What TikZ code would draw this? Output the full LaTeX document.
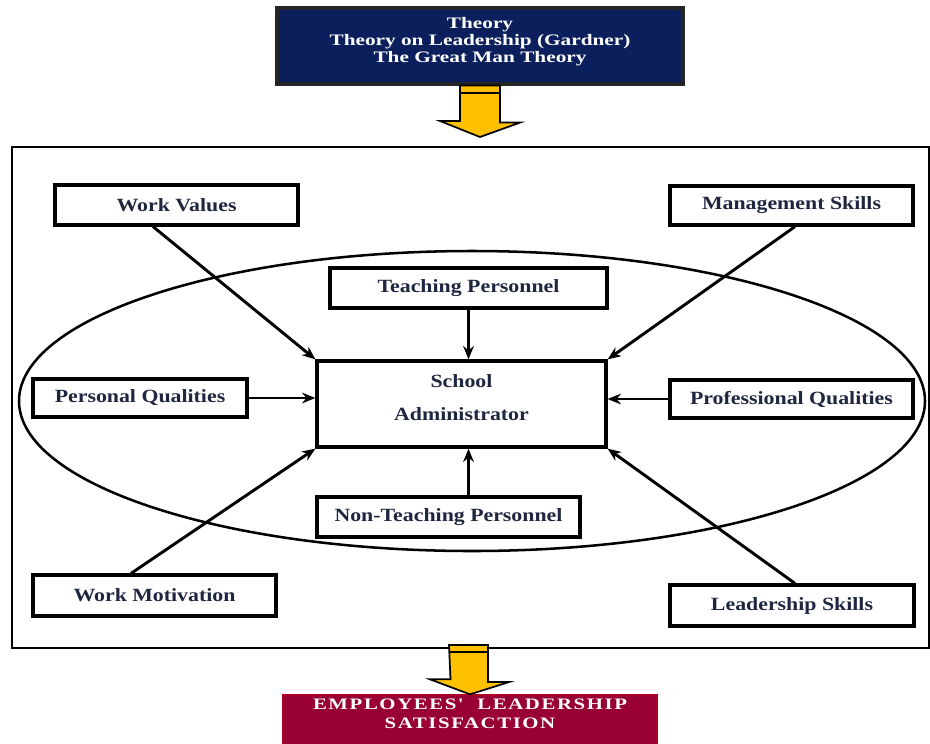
\documentclass[tikz,border=0pt]{standalone}
\usepackage{fontspec}
\usepackage{tikz}
\usetikzlibrary{arrows.meta,calc}

\newfontfamily\boxfont[FakeStretch=1.17]{Liberation Serif}
\newfontfamily\headfont[FakeStretch=1.33]{Liberation Serif}
\newfontfamily\capsfont[FakeStretch=1.3,LetterSpace=10]{Liberation Serif}

\definecolor{theorynavy}{HTML}{0B1F5C}
\definecolor{outmaroon}{HTML}{990033}
\definecolor{arrowgold}{HTML}{FFC000}
\definecolor{labelink}{HTML}{1F2640}

\tikzset{
  factor/.style={draw=black, line width=2.4pt, fill=white, text=labelink,
    font=\boxfont\bfseries\fontsize{14}{16}\selectfont, inner sep=0pt, align=center},
  link/.style={line width=2.2pt, -{Stealth[length=10pt,width=8pt]}},
  bigarrow/.style={fill=arrowgold, draw=black, line width=1.3pt, line join=miter},
}

\begin{document}
\begin{tikzpicture}[x=0.75pt,y=-0.75pt]
  \clip (0,0) rectangle (930,743);
  \fill[white] (0,0) rectangle (930,743);

  % Theory on top
  \node[draw=black!85, line width=2.4pt, fill=theorynavy, text=white, align=center,
        font=\headfont\bfseries\fontsize{12}{13}\selectfont,
        minimum width=304.5pt, minimum height=57pt, inner sep=0pt]
    (theory) at (480,46) {Theory\\Theory on Leadership (Gardner)\\The Great Man Theory\\[-4pt]\mbox{}};

  % Frame and ellipse
  \coordinate (frameNW) at (12,147);
  \coordinate (frameSE) at (929,648);
  \draw[line width=1.9pt] (frameNW) rectangle (frameSE);
  \draw[line width=1.9pt] (472,401) ellipse [x radius=339.75pt, y radius=112.5pt];

  % Factors
  \node[factor, minimum width=182.25pt, minimum height=30pt]   (workval)  at (176.5,205) {Work Values};
  \node[factor, minimum width=182.25pt, minimum height=29.25pt] (mgmt)    at (791.5,205.5) {Management Skills};
  \node[factor, minimum width=207.75pt, minimum height=30pt]   (teach)    at (468.5,288) {Teaching Personnel};
  \node[factor, minimum width=216.75pt, minimum height=64.5pt] (school)   at (461.5,404) {School\\[9pt]Administrator\\[-6pt]\mbox{}};
  \node[factor, minimum width=160.5pt, minimum height=28.5pt]  (personal) at (140,398) {Personal Qualities};
  \node[factor, minimum width=182.25pt, minimum height=28.5pt] (prof)     at (791.5,399) {Professional Qualities};
  \node[factor, minimum width=197.25pt, minimum height=30pt]   (nonteach) at (448.5,517) {Non-Teaching Personnel};
  \node[factor, minimum width=182.25pt, minimum height=30.75pt] (workmot) at (154.5,595.5) {Work Motivation};
  \node[factor, minimum width=183pt, minimum height=30.75pt]   (leader)   at (792,605.5) {Leadership Skills};

  % Links to the administrator
  \draw[link] ($(workval.south)+(-23.5,0)$) -- (school.north west);
  \draw[link] ($(mgmt.south)+(3.5,0)$) -- (school.north east);
  \draw[link] ($(workmot.north)+(-23.5,0)$) -- (school.south west);
  \draw[link] ($(leader.north)+(3,0)$) -- (school.south east);
  \draw[link] (teach.south) -- (teach.south |- school.north);
  \draw[link] (teach.south |- nonteach.north) -- (teach.south |- school.south);
  \draw[link] (personal.east) -- (personal.east -| school.west);
  \draw[link] (prof.west) -- (prof.west -| school.east);

  % Outcome
  \node[draw=outmaroon!80!red, line width=1pt, fill=outmaroon, text=white, align=center,
        font=\capsfont\bfseries\fontsize{12}{14}\selectfont,
        minimum width=280.5pt, minimum height=37.5pt, inner sep=0pt]
    (outcome) at (470,720) {EMPLOYEES'\ \ LEADERSHIP\\SATISFACTION\\[-5pt]\mbox{}};

  % Block arrows
  \coordinate (topTip) at (480,137);
  \draw[bigarrow] ($(theory.south)+(-20,0)$) -- ++(40,0) -- ++(0,37) -- ++(20,0)
    -- (topTip) -- ++(-40,-16) -- ++(20,0) -- cycle;
  \draw[line width=1.5pt] ($(theory.south)+(-20,7)$) -- ++(40,0);

  \coordinate (botTop) at (468.5,648);
  \draw[bigarrow] ($(botTop)+(-19.5,-3)$) -- ++(39,0) -- ++(0,37) -- ++(21,0)
    -- (outcome.north) -- ++(-40,-15) -- ++(20.5,0) -- cycle;
  \draw[line width=1.5pt] ($(botTop)+(-19.5,4)$) -- ++(39,0);
\end{tikzpicture}
\end{document}
